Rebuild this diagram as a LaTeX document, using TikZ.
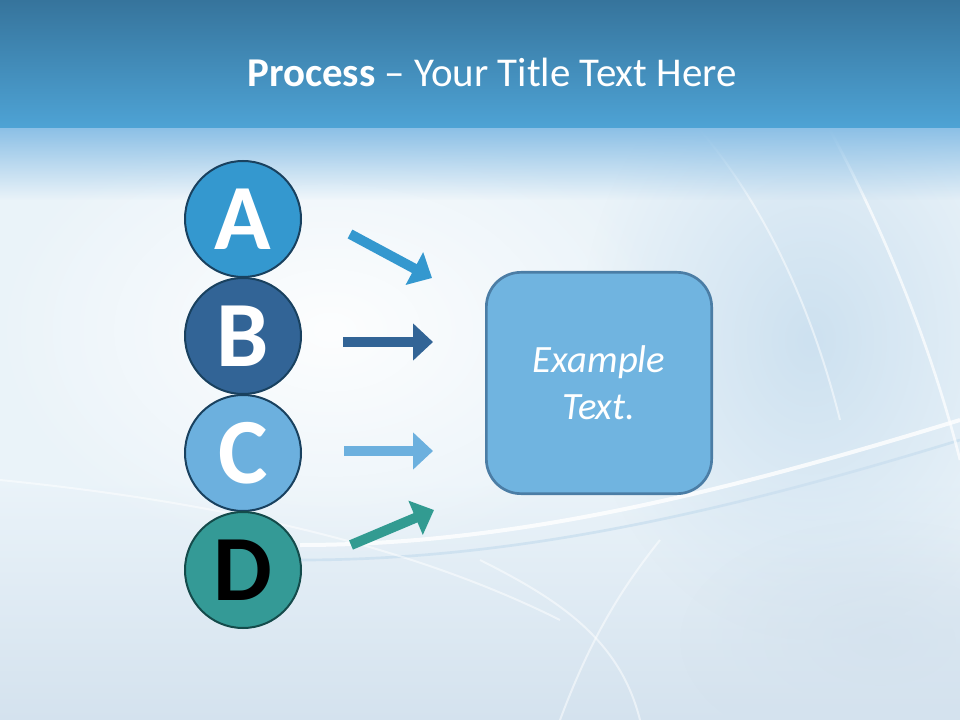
\documentclass[tikz,border=0pt]{standalone}
\usepackage{fontspec}
\setmainfont{Carlito}
\usetikzlibrary{arrows.meta,fadings}
\definecolor{barTop}{RGB}{54,116,156}
\definecolor{barBot}{RGB}{78,163,213}
\definecolor{bandFade}{RGB}{140,192,230}
\definecolor{bgLight}{RGB}{234,243,249}
\definecolor{bgBlue}{RGB}{205,225,240}
\definecolor{bgLow}{RGB}{212,226,238}
\definecolor{cA}{RGB}{52,152,207}
\definecolor{cB}{RGB}{50,100,150}
\definecolor{cC}{RGB}{108,176,222}
\definecolor{cD}{RGB}{52,154,150}
\definecolor{cArrD}{RGB}{50,155,145}
\definecolor{edgeDark}{RGB}{25,65,95}
\definecolor{edgeTeal}{RGB}{20,75,75}
\definecolor{boxFill}{RGB}{112,180,224}
\definecolor{boxEdge}{RGB}{75,125,165}
\tikzfading[name=softedge, inner color=transparent!0, outer color=transparent!100]
\tikzset{
  letter/.style={circle, minimum size=87pt, inner sep=0pt, line width=1.5pt, draw=edgeDark, font=\fontsize{70}{70}\selectfont\bfseries, text=white},
  flow/.style={line width=7.5pt, -{Triangle[width=27pt,length=15pt]}},
  bigbox/.style={rounded corners=26pt, line width=2pt, draw=boxEdge, fill=boxFill, minimum width=169pt, minimum height=166pt, text=white, align=center, font=\fontsize{29}{35}\selectfont\itshape},
}
\begin{document}
\begin{tikzpicture}[x=0.75pt,y=-0.75pt]
\useasboundingbox (0,0) rectangle (960,720);
% background
\fill[bgLight] (0,0) rectangle (960,720);
\shade[top color=bgLight, bottom color=bgLow] (0,480) rectangle (960,720);
\fill[bgBlue, path fading=softedge] (810,340) ellipse [x radius=230, y radius=300];
\fill[white, path fading=softedge, opacity=0.9] (330,330) ellipse [x radius=340, y radius=230];
\fill[bgLow, path fading=softedge, opacity=0.8] (880,640) ellipse [x radius=200, y radius=120];
% swoosh lines
\draw[white, opacity=0.8, line width=3pt] (300,545) .. controls (500,545) and (700,500) .. (960,420);
\draw[bgBlue, opacity=0.9, line width=2pt] (300,560) .. controls (500,560) and (700,520) .. (960,440);
\draw[white, opacity=0.7, line width=2pt] (830,130) .. controls (900,260) and (940,380) .. (960,460);
\draw[white, opacity=0.5, line width=1.5pt] (700,130) .. controls (760,200) and (810,300) .. (840,420);
\draw[white, opacity=0.5, line width=1.5pt] (560,720) .. controls (590,640) and (620,590) .. (660,540);
\draw[white, opacity=0.5, line width=1.5pt] (640,720) .. controls (620,640) and (560,600) .. (480,560);
\draw[white, opacity=0.5, line width=1.5pt] (0,480) .. controls (200,500) and (400,540) .. (560,620);
% title band
\fill[bandFade, path fading=south] (0,128) rectangle (960,200);
\shade[top color=barTop, bottom color=barBot] (0,0) rectangle (960,128);
\node[text=white, font=\fontsize{30.7}{36}\selectfont, anchor=base] (title) at (492,87) {\textbf{Process} – Your Title Text Here};
% circles
\node[letter, fill=cA] (A) at (243,219) {A};
\node[letter, fill=cB] (B) at (243,336) {B};
\node[letter, fill=cC] (C) at (243,453) {C};
\node[letter, fill=cD, draw=edgeTeal, text=black] (D) at (243,570) {D};
% box
\node[bigbox] (box) at (599,383) {Example\\Text.};
% arrows
\coordinate (a1) at (350,234); \coordinate (a2) at (432,278);
\coordinate (b1) at (343,342); \coordinate (b2) at (433,342);
\coordinate (c1) at (344,451); \coordinate (c2) at (433,451);
\coordinate (d1) at (351,545); \coordinate (d2) at (434,510);
\draw[flow, cA] (a1) -- (a2);
\draw[flow, cB] (b1) -- (b2);
\draw[flow, cC] (c1) -- (c2);
\draw[flow, cArrD] (d1) -- (d2);
\end{tikzpicture}
\end{document}
